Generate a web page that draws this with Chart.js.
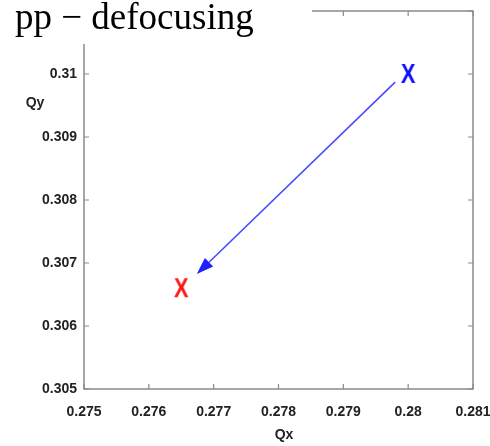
<!DOCTYPE html>
<html><head><meta charset="utf-8">
<script src="https://cdn.jsdelivr.net/npm/chart.js@4"></script>
<style>html,body{margin:0;padding:0;background:#fff}#c{display:block}</style>
</head><body>
<canvas id="c" width="490" height="446"></canvas>
<script>
const titleText = 'pp \u2212 defocusing';
const xTicks = [0.275, 0.276, 0.277, 0.278, 0.279, 0.28, 0.281];
const yTicks = [0.305, 0.306, 0.307, 0.308, 0.309, 0.31, 0.311];
const startPoint = [0.28, 0.31];
const endPoint = [0.2765, 0.3066];
const arrowFrom = [0.2798, 0.30987];
const arrowTo = [0.27674, 0.306825];

const SANS = '"Liberation Sans",Arial,sans-serif';

function makeX(color){
  const c = document.createElement('canvas');
  c.width = 18; c.height = 26;
  const g = c.getContext('2d');
  g.fillStyle = color;
  g.font = 'bold 28px ' + SANS;
  g.textAlign = 'center';
  g.textBaseline = 'middle';
  g.setTransform(0.78, 0, 0, 1, 9 * 0.22, 0);
  g.fillText('X', 9, 14);
  return c;
}

const framePlugin = {
  id: 'frame',
  afterDraw(chart){
    const {ctx, chartArea:a, scales:{x, y}} = chart;
    ctx.save();
    ctx.strokeStyle = '#8a8a8a';
    ctx.lineWidth = 1.5;
    ctx.strokeRect(a.left, a.top, a.right - a.left, a.bottom - a.top);
    ctx.lineWidth = 1.2;
    ctx.beginPath();
    xTicks.forEach(v => {
      const px = x.getPixelForValue(v);
      ctx.moveTo(px, a.bottom); ctx.lineTo(px, a.bottom - 5);
      ctx.moveTo(px, a.top); ctx.lineTo(px, a.top + 5);
    });
    yTicks.forEach(v => {
      const py = y.getPixelForValue(v);
      ctx.moveTo(a.left, py); ctx.lineTo(a.left + 5, py);
      ctx.moveTo(a.right, py); ctx.lineTo(a.right - 5, py);
    });
    ctx.stroke();
    // arrow
    const x0 = x.getPixelForValue(arrowFrom[0]), y0 = y.getPixelForValue(arrowFrom[1]);
    const x1 = x.getPixelForValue(arrowTo[0]), y1 = y.getPixelForValue(arrowTo[1]);
    const ang = Math.atan2(y1 - y0, x1 - x0);
    const hl = 17, hw = 6;
    const bx = x1 - hl * Math.cos(ang), by = y1 - hl * Math.sin(ang);
    ctx.strokeStyle = '#4a4aff';
    ctx.lineWidth = 1.6;
    ctx.beginPath(); ctx.moveTo(x0, y0); ctx.lineTo(bx, by); ctx.stroke();
    ctx.fillStyle = '#2020ff';
    ctx.beginPath();
    ctx.moveTo(x1, y1);
    ctx.lineTo(bx + hw * Math.sin(ang), by - hw * Math.cos(ang));
    ctx.lineTo(bx - hw * Math.sin(ang), by + hw * Math.cos(ang));
    ctx.closePath(); ctx.fill();
    // title cover
    ctx.fillStyle = '#fff';
    ctx.fillRect(0, 0, 312, 44);
    ctx.fillStyle = '#000';
    ctx.font = '37px "Liberation Serif","Times New Roman",serif';
    ctx.textAlign = 'left';
    ctx.textBaseline = 'alphabetic';
    ctx.fillText(titleText, 15, 29);
    // axis labels
    ctx.fillStyle = '#222';
    ctx.font = 'bold 14px ' + SANS;
    ctx.textAlign = 'center';
    ctx.textBaseline = 'middle';
    ctx.fillText('Qy', 35, 103);
    ctx.fillText('Qx', 284, 435);
    ctx.restore();
  }
};

new Chart(document.getElementById('c'), {
  type: 'scatter',
  data: {
    datasets: [
      { data: [{x: startPoint[0], y: startPoint[1]}], pointStyle: makeX('#1010ff'), pointRadius: 10 },
      { data: [{x: endPoint[0], y: endPoint[1]}], pointStyle: makeX('#ff1515'), pointRadius: 10 }
    ]
  },
  options: {
    responsive: false,
    animation: false,
    layout: { padding: { left: 0, right: 17, top: 9.5, bottom: 0 } },
    plugins: { legend: { display: false }, tooltip: { enabled: false } },
    scales: {
      x: {
        type: 'linear', min: 0.275, max: 0.281,
        afterBuildTicks(s){ s.ticks = xTicks.map(v => ({value: v})); },
        afterFit(s){ s.height = 57; s.paddingLeft = 0; s.paddingRight = 0; },
        grid: { display: false, drawTicks: false },
        border: { display: false },
        ticks: {
          padding: 15, color: '#222',
          font: { family: SANS, size: 14, weight: 'bold' },
          callback: v => String(+v.toFixed(3))
        }
      },
      y: {
        type: 'linear', min: 0.305, max: 0.311,
        afterBuildTicks(s){ s.ticks = yTicks.map(v => ({value: v})); },
        afterFit(s){ s.width = 84; s.paddingTop = 0; s.paddingBottom = 0; },
        grid: { display: false, drawTicks: false },
        border: { display: false },
        ticks: {
          padding: 7, color: '#222',
          font: { family: SANS, size: 14, weight: 'bold' },
          callback: v => v >= 0.311 ? '' : String(+v.toFixed(3))
        }
      }
    }
  },
  plugins: [framePlugin]
});
</script>
</body></html>
